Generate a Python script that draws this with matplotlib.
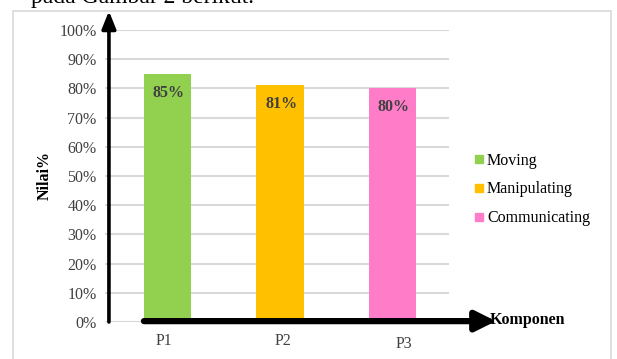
import matplotlib.pyplot as plt
from matplotlib.lines import Line2D
from matplotlib.patches import Rectangle
import matplotlib.transforms as mtransforms

plt.rcParams['font.family'] = ['Liberation Serif', 'DejaVu Serif']

kategori = ["P1", "P2", "P3"]
nilai = [85, 81, 80]
seri = ["Moving", "Manipulating", "Communicating"]
warna = ["#92D050", "#FFC000", "#FF7DC8"]
yticks = [0, 10, 20, 30, 40, 50, 60, 70, 80, 90, 100]

W, H = 617, 359
fig = plt.figure(figsize=(W / 100, H / 100), dpi=100)

# kotak luar
fig.patches.append(Rectangle((13 / W, -0.01), 598 / W, 1 - 11.5 / H + 0.01,
                             transform=fig.transFigure, fill=False,
                             edgecolor="#D9D9D9", lw=1.2))
fig.text(31 / W, 1 - 3 / H, "pada Gambar 2 berikut.", fontsize=17,
         va="baseline", ha="left", color="black")

ax = fig.add_axes([105 / W, 1 - 322 / H, 344 / W, 292 / H])
x = list(range(len(kategori)))
bars = ax.bar(x, nilai, width=0.42, color=warna, zorder=2)
for b, v in zip(bars, nilai):
    ax.annotate("%d%%" % v, (b.get_x() + b.get_width() / 2, v),
                xytext=(1, -13.5), textcoords="offset points",
                ha="center", va="center", fontsize=11.5,
                fontweight="bold", color="#404040")

ax.set_xlim(-0.555, 2.503)
ax.set_ylim(0, 100)
ax.set_yticks(yticks)
ax.set_yticklabels(["%d%%" % t for t in yticks], fontsize=11.5, color="#404040")
ax.tick_params(axis="y", length=0, pad=6)
ax.set_xticks(x)
ax.set_xticklabels(kategori, fontsize=11.5, color="#404040")
ax.tick_params(axis="x", length=0, pad=8)
geser = [(-3, 0), (3, 0), (11, -3)]
for lbl, (dx, dy) in zip(ax.get_xticklabels(), geser):
    lbl.set_transform(lbl.get_transform() +
                      mtransforms.ScaledTranslation(dx / 100, dy / 100, fig.dpi_scale_trans))
ax.grid(axis="y", color="#D9D9D9", lw=1.5, zorder=0)
for s in ax.spines.values():
    s.set_visible(False)

# panah sumbu
ax.annotate("", xy=(-0.52, 106.5), xytext=(-0.52, 0), xycoords="data",
            annotation_clip=False,
            arrowprops=dict(arrowstyle="-|>,head_length=0.75,head_width=0.3",
                            mutation_scale=14, lw=2.6, color="black",
                            shrinkA=0, shrinkB=0))
ax.annotate("", xy=(2.92, 0.3), xytext=(-0.209, 0.3), xycoords="data",
            annotation_clip=False,
            arrowprops=dict(arrowstyle="-|>,head_length=0.6,head_width=0.3",
                            mutation_scale=20, lw=4.5, color="black",
                            shrinkA=0, shrinkB=0))

fig.text(490 / W, 1 - 320 / H, "Komponen", fontsize=11.5, fontweight="bold",
         va="center", ha="left")
fig.text(45 / W, 1 - 175 / H, "Nilai%", fontsize=11.5, fontweight="bold",
         rotation=90, va="center", ha="center")

handles = [Line2D([], [], ls="none", marker="s", markersize=6, color=c) for c in warna]
fig.legend(handles, seri, loc="center left", bbox_to_anchor=(475 / W, 1 - 189.5 / H),
           bbox_transform=fig.transFigure, frameon=False, fontsize=11.5,
           handlelength=0.5, handletextpad=0.25, labelspacing=0.8,
           borderpad=0, borderaxespad=0)

fig.savefig("out.png", dpi=100)
